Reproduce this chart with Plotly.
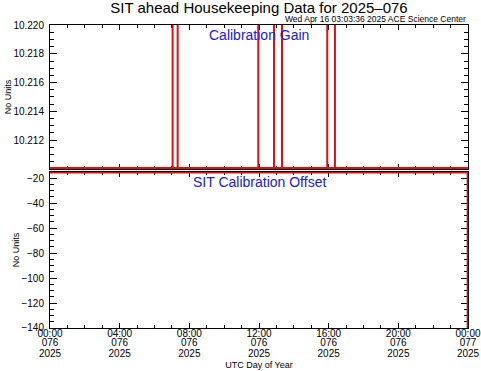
import plotly.graph_objects as go

# ---- data ----
tick_hours = [0, 4, 8, 12, 16, 20, 24]
tick_time = ["00:00", "04:00", "08:00", "12:00", "16:00", "20:00", "00:00"]
tick_doy = ["076", "076", "076", "076", "076", "076", "077"]
tick_year = ["2025", "2025", "2025", "2025", "2025", "2025", "2025"]

gain_hours = [0.00, 7.04, 7.04, 7.04, 7.33, 7.33, 7.33, 11.96, 11.96, 11.96,
              12.86, 12.86, 12.86, 13.32, 13.32, 13.32, 15.92, 15.92, 15.92,
              16.36, 16.36, 16.36, 24.00]
gain_values = [10.21006, 10.21006, 10.2300, 10.21006, 10.21006, 10.2300, 10.21006,
               10.21006, 10.2300, 10.21006, 10.21006, 10.2300, 10.21006,
               10.21006, 10.2300, 10.21006, 10.21006, 10.2300, 10.21006,
               10.21006, 10.2300, 10.21006, 10.21006]

offset_hours = [0.00, 23.98, 23.98]
offset_values = [-15.5, -15.5, -150.0]

gain_ticks = [10.212, 10.214, 10.216, 10.218, 10.220]
offset_ticks = [-140, -120, -100, -80, -60, -40, -20]

RED = "#dd1010"
BLUE = "#2020c8"
FONT = "Liberation Sans, Arial, sans-serif"

fig = go.Figure()
fig.add_trace(go.Scatter(x=gain_hours, y=gain_values, mode="lines",
                         line=dict(color=RED, width=2), xaxis="x", yaxis="y",
                         showlegend=False, hoverinfo="skip"))
fig.add_trace(go.Scatter(x=offset_hours, y=offset_values, mode="lines",
                         line=dict(color=RED, width=2), xaxis="x2", yaxis="y2",
                         showlegend=False, hoverinfo="skip"))
# empty traces so the extra label axes (day-of-year, year rows) get drawn
for ax in ("x3", "x4"):
    fig.add_trace(go.Scatter(x=[], y=[], mode="lines", xaxis=ax, yaxis="y2",
                             showlegend=False, hoverinfo="skip"))

tickfont = dict(size=10, color="black", family=FONT)

common_x = dict(range=[0, 24], showgrid=False, zeroline=False, showline=True,
                linecolor="black", linewidth=1, mirror="ticks", ticks="inside",
                ticklen=5, tickcolor="black", layer="below traces", automargin=False,
                tickmode="array", tickvals=tick_hours,
                minor=dict(dtick=1, tick0=0, ticks="inside", ticklen=3, tickcolor="black"))
label_x = dict(range=[0, 24], showgrid=False, zeroline=False, showline=False,
               ticks="", automargin=False, tickmode="array", tickvals=tick_hours,
               overlaying="x2", anchor="y2", side="bottom", tickfont=tickfont)
common_y = dict(showgrid=False, zeroline=False, showline=True, linecolor="black",
                linewidth=1, mirror="ticks", ticks="inside", ticklen=7,
                tickcolor="black", layer="below traces", automargin=False,
                ticklabelstandoff=3, tickfont=tickfont,
                title=dict(text="No Units", font=dict(size=9, color="black", family=FONT),
                           standoff=0))

fig.update_layout(
    width=481, height=371,
    margin=dict(l=50, r=13, t=25, b=43),
    paper_bgcolor="white", plot_bgcolor="white",
    font=dict(family=FONT, color="black"),
    xaxis=dict(common_x, anchor="y", showticklabels=False),
    xaxis2=dict(common_x, anchor="y2", ticktext=tick_time, tickfont=tickfont,
                ticklabelstandoff=-4),
    xaxis3=dict(label_x, ticktext=tick_doy, ticklabelstandoff=7),
    xaxis4=dict(label_x, ticktext=tick_year, ticklabelstandoff=18,
                title=dict(text="UTC Day of Year",
                           font=dict(size=9, color="black", family=FONT), standoff=3)),
    yaxis=dict(common_y, domain=[0.5248, 1.0], range=[10.2100, 10.2200],
               tickmode="array", tickvals=gain_ticks, ticktext=[f"{v:.3f}" for v in gain_ticks],
               minor=dict(dtick=0.0005, tick0=10.210, ticks="inside", ticklen=4, tickcolor="black")),
    yaxis2=dict(common_y, domain=[0.0, 0.5149], range=[-140, -15],
                tickmode="array", tickvals=offset_ticks,
                minor=dict(dtick=5, tick0=-140, ticks="inside", ticklen=4, tickcolor="black")),
    title=dict(text="SIT ahead Housekeeping Data for 2025\u2013076",
               font=dict(size=15, color="black", family=FONT),
               x=0.5, xref="paper", xanchor="center", y=0.978, yanchor="middle"),
    annotations=[
        dict(text="Wed Apr 16 03:03:36 2025 ACE Science Center", xref="paper", yref="paper",
             x=1.0, y=1.0, xanchor="right", yanchor="middle", showarrow=False,
             font=dict(size=8.5, color="black", family=FONT), yshift=6),
        dict(text="Calibration Gain", xref="paper", yref="paper", x=0.5, y=1.0,
             xanchor="center", yanchor="top", showarrow=False, yshift=0,
             font=dict(size=14, color=BLUE, family=FONT)),
        dict(text="SIT Calibration Offset", xref="paper", yref="paper", x=0.5, y=0.5149,
             xanchor="center", yanchor="top", showarrow=False, yshift=0,
             font=dict(size=14, color=BLUE, family=FONT)),
    ],
)

fig.write_html("out.html", config={"displayModeBar": False},
               post_script="document.body.style.margin='0';")
